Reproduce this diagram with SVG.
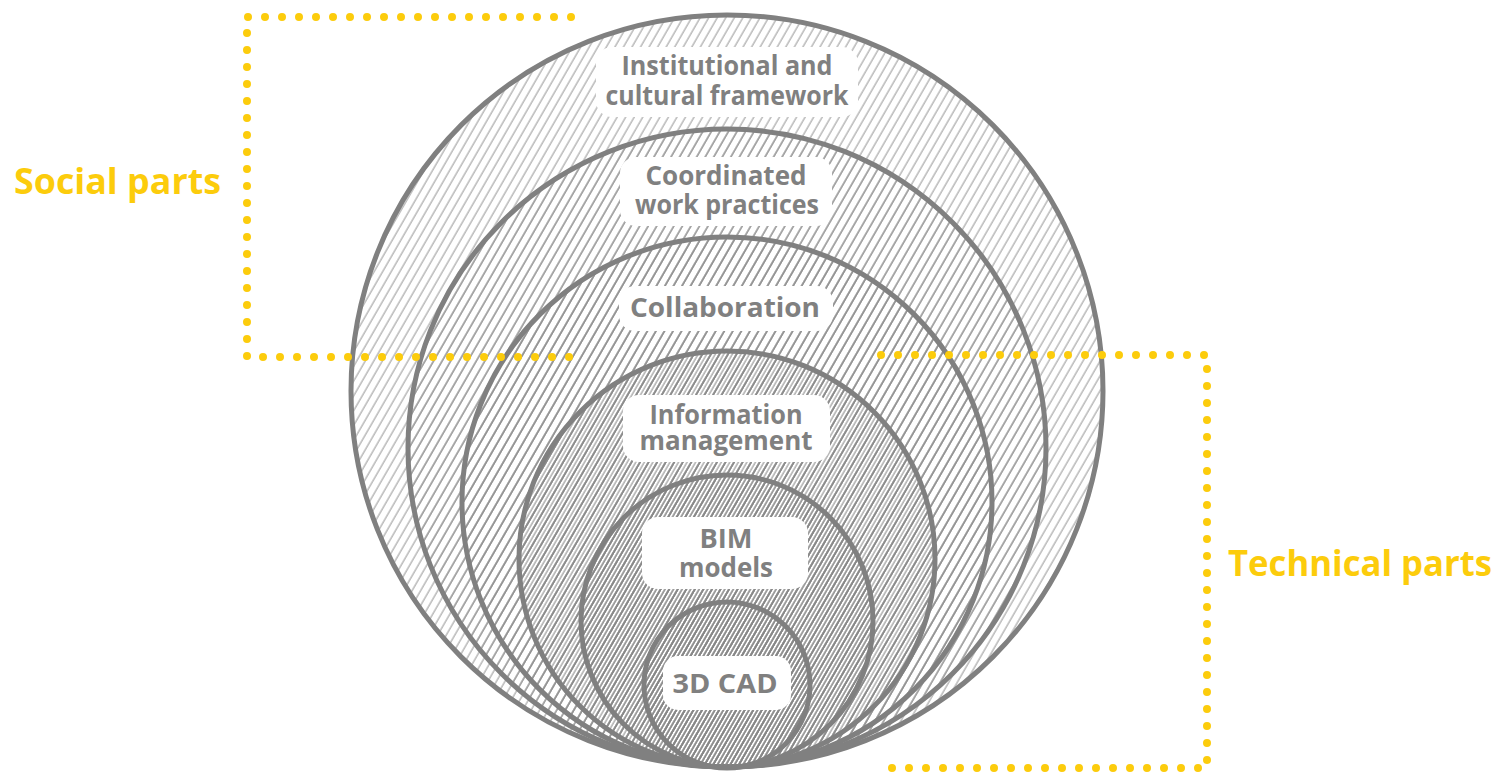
<svg xmlns="http://www.w3.org/2000/svg" width="1504" height="772" viewBox="0 0 1504 772">
  <defs>
    <pattern id="h1" patternUnits="userSpaceOnUse" width="7.4" height="20" patternTransform="rotate(30)">
      <line x1="1" y1="0" x2="1" y2="20" stroke="#858585" stroke-width="0.9"/>
    </pattern>
    <pattern id="h2" patternUnits="userSpaceOnUse" width="3.7" height="20" patternTransform="rotate(30)">
      <line x1="1" y1="0" x2="1" y2="20" stroke="#858585" stroke-width="1"/>
    </pattern>
    <style>
      .ring { stroke: #808080; stroke-width: 5; }
      .sparse { fill: url(#h1); }
      .dense { fill: url(#h2); }
      .box { fill: #ffffff; }
      .lbl { font-family: "Open Sans", "Liberation Sans", sans-serif; font-weight: 700; font-size: 26px; fill: #808080; text-anchor: middle; }
      .side { font-family: "Open Sans", "Liberation Sans", sans-serif; font-weight: 700; font-size: 35px; fill: #FCCC0C; }
      .dots { fill: none; stroke: #FCCC0C; stroke-width: 8; stroke-linecap: round; stroke-dasharray: 0 17; }
    </style>
  </defs>
  <rect width="1504" height="772" fill="#ffffff"/>

  <g id="node-institutional">
    <circle class="ring sparse" cx="727" cy="391" r="376"/>
    <rect class="box" x="596" y="47" width="262" height="70" rx="16"/>
    <text class="lbl"><tspan x="727" y="75" textLength="211" lengthAdjust="spacingAndGlyphs">Institutional and</tspan><tspan x="727" y="105" textLength="243" lengthAdjust="spacingAndGlyphs">cultural framework</tspan></text>
  </g>

  <g id="node-coordinated">
    <circle class="ring sparse" cx="727" cy="448" r="319"/>
    <rect class="box" x="620" y="157" width="212" height="69" rx="16"/>
    <text class="lbl"><tspan x="726" y="185" textLength="161" lengthAdjust="spacingAndGlyphs">Coordinated</tspan><tspan x="727" y="214" textLength="184" lengthAdjust="spacingAndGlyphs">work practices</tspan></text>
  </g>

  <g id="node-collaboration">
    <circle class="ring sparse" cx="727" cy="502" r="265"/>
    <rect class="box" x="619" y="286" width="214" height="45" rx="16"/>
    <text class="lbl" x="725" y="317" textLength="190" lengthAdjust="spacingAndGlyphs">Collaboration</text>
  </g>

  <g id="node-information">
    <circle class="ring dense" cx="727" cy="559" r="208"/>
    <rect class="box" x="623" y="395" width="207" height="67" rx="16"/>
    <text class="lbl"><tspan x="726" y="424" textLength="153" lengthAdjust="spacingAndGlyphs">Information</tspan><tspan x="726" y="450" textLength="173" lengthAdjust="spacingAndGlyphs">management</tspan></text>
  </g>

  <g id="node-bim">
    <circle class="ring dense" cx="727" cy="621" r="146"/>
    <rect class="box" x="642" y="517" width="166" height="72" rx="16"/>
    <text class="lbl"><tspan x="726" y="548" textLength="53" lengthAdjust="spacingAndGlyphs">BIM</tspan><tspan x="726" y="577" textLength="94" lengthAdjust="spacingAndGlyphs">models</tspan></text>
  </g>

  <g id="node-3dcad">
    <circle class="ring dense" cx="727" cy="685" r="83"/>
    <rect class="box" x="663" y="656" width="128" height="54" rx="15"/>
    <text class="lbl" x="725" y="693" textLength="105" lengthAdjust="spacingAndGlyphs">3D CAD</text>
  </g>

  <g id="connectors">
    <path class="dots" d="M571 17 H247 V357 H571"/>
    <path class="dots" d="M881 355 H1207 V768 H881"/>
  </g>

  <g id="labels">
    <text class="side" x="14" y="194" textLength="207" lengthAdjust="spacingAndGlyphs">Social parts</text>
    <text class="side" x="1228" y="576" textLength="264" lengthAdjust="spacingAndGlyphs">Technical parts</text>
  </g>
</svg>
